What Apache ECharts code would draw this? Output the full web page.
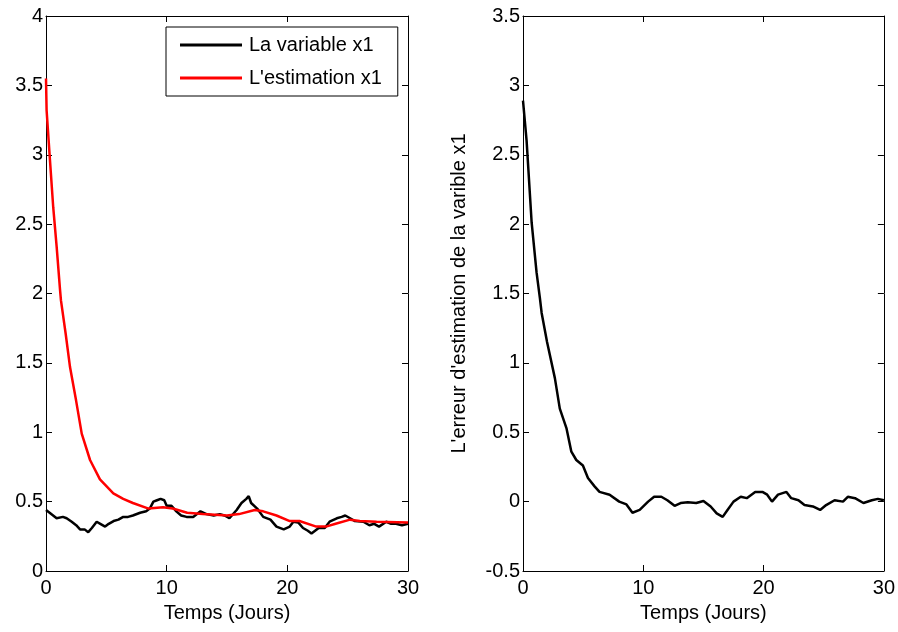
<!DOCTYPE html>
<html>

<head>
    <meta charset="UTF-8">
    <title>Estimation x1</title>
    <style type="text/css">
        * {
            margin: 0;
            padding: 0;
        }

        html,
        body {
            width: 100%;
            height: 100%;
            background: #fff;
        }

        .container {
            width: 898px;
            height: 632px;
        }
    </style>
</head>

<body>
    <div class="container" id="container"></div>
    <script src="https://cdn.jsdelivr.net/npm/echarts@6/dist/echarts.min.js"></script>
    <script>
        // x1 reel (gauche, noir)
        const tX1 = [0, 0.3, 0.88, 1.4, 1.71, 2.13, 2.5, 2.82, 3.2, 3.5, 3.8, 4.2, 4.5, 4.9, 5.2, 5.6, 6.0, 6.4, 6.8, 7.2, 7.8, 8.3, 8.6, 8.9, 9.2, 9.5, 9.8, 10.0, 10.4, 10.8, 11.2, 11.65, 12.2, 12.8, 13.3, 13.9, 14.4, 14.8, 15.2, 15.8, 16.2, 16.6, 16.8, 17.0, 17.5, 18.0, 18.6, 19.1, 19.7, 20.2, 20.5, 20.9, 21.3, 21.7, 22.0, 22.6, 23.1, 23.5, 24.1, 24.5, 24.8, 25.2, 25.6, 26.3, 26.8, 27.2, 27.6, 28.2, 28.6, 29.0, 29.5, 30];
        const x1Values = [0.44, 0.42, 0.38, 0.39, 0.38, 0.355, 0.33, 0.30, 0.30, 0.28, 0.31, 0.355, 0.34, 0.32, 0.34, 0.36, 0.37, 0.39, 0.39, 0.40, 0.42, 0.43, 0.45, 0.50, 0.51, 0.52, 0.51, 0.47, 0.47, 0.43, 0.40, 0.39, 0.39, 0.43, 0.41, 0.40, 0.41, 0.40, 0.38, 0.44, 0.49, 0.52, 0.54, 0.49, 0.45, 0.39, 0.37, 0.32, 0.30, 0.32, 0.355, 0.35, 0.31, 0.29, 0.27, 0.31, 0.31, 0.355, 0.38, 0.39, 0.40, 0.38, 0.36, 0.355, 0.33, 0.34, 0.32, 0.355, 0.34, 0.34, 0.33, 0.34];

        // estimation de x1 (gauche, rouge)
        const tEst = [0, 0.05, 0.33, 0.6, 0.88, 1.16, 1.24, 1.63, 1.99, 2.49, 2.96, 3.65, 4.47, 5.58, 6.4, 7.2, 8.5, 9.7, 10.5, 11.7, 13, 15, 16, 17.3, 18, 19.1, 20.2, 21, 22.4, 23.2, 24, 25.2, 26, 27.4, 30];
        const estValues = [3.55, 3.32, 2.96, 2.62, 2.34, 2.03, 1.95, 1.71, 1.47, 1.23, 0.99, 0.80, 0.66, 0.56, 0.52, 0.49, 0.45, 0.46, 0.45, 0.42, 0.41, 0.40, 0.41, 0.44, 0.43, 0.40, 0.36, 0.36, 0.32, 0.32, 0.34, 0.37, 0.36, 0.355, 0.35];

        // erreur d'estimation (droite)
        const tErr = [0, 0.3, 0.45, 0.72, 1.13, 1.4, 1.55, 2.0, 2.65, 3.06, 3.61, 4.02, 4.43, 4.98, 5.4, 5.95, 6.36, 7.2, 8.0, 8.6, 9.1, 9.7, 10.4, 10.9, 11.5, 12.0, 12.6, 13.1, 13.7, 14.4, 15.0, 15.6, 16.1, 16.6, 17.0, 17.5, 18.1, 18.6, 19.3, 19.9, 20.3, 20.7, 21.2, 21.9, 22.3, 22.9, 23.4, 24.1, 24.7, 25.2, 25.9, 26.6, 27.0, 27.6, 28.3, 29.0, 29.5, 30];
        const errValues = [2.89, 2.6, 2.39, 2.01, 1.65, 1.47, 1.36, 1.15, 0.89, 0.67, 0.53, 0.36, 0.30, 0.26, 0.17, 0.11, 0.07, 0.05, 0.0, -0.02, -0.08, -0.06, 0.0, 0.035, 0.035, 0.01, -0.03, -0.01, -0.005, -0.01, 0.005, -0.035, -0.085, -0.11, -0.06, 0.0, 0.035, 0.025, 0.07, 0.07, 0.05, 0.0, 0.05, 0.07, 0.025, 0.01, -0.025, -0.035, -0.06, -0.025, 0.01, 0.0, 0.035, 0.025, -0.01, 0.01, 0.02, 0.01];

        const xTicks = { min: 0, max: 30, interval: 10 };
        const font = 'Liberation Sans, Arial, sans-serif';

        const pairs = (t, v) => t.map((x, i) => [x, v[i]]);

        const mainX = (gridIndex) => ({
            type: 'value',
            gridIndex: gridIndex,
            position: 'bottom',
            min: xTicks.min,
            max: xTicks.max,
            interval: xTicks.interval,
            name: 'Temps (Jours)',
            nameLocation: 'middle',
            nameGap: 32,
            nameTextStyle: { color: '#000', fontSize: 20, fontFamily: font },
            axisLine: { show: true, onZero: false, lineStyle: { color: '#000', width: 1 } },
            axisTick: { show: true, inside: true, length: 6, lineStyle: { color: '#000' } },
            axisLabel: { color: '#000', fontSize: 20, fontFamily: font, margin: 7, showMaxLabel: true, showMinLabel: true },
            splitLine: { show: false }
        });
        const topX = (gridIndex) => ({
            type: 'value',
            gridIndex: gridIndex,
            position: 'top',
            min: xTicks.min,
            max: xTicks.max,
            interval: xTicks.interval,
            axisLine: { show: true, onZero: false, lineStyle: { color: '#000', width: 1 } },
            axisTick: { show: true, inside: true, length: 6, lineStyle: { color: '#000' } },
            axisLabel: { show: false },
            splitLine: { show: false }
        });
        const leftY = (gridIndex, min, max, name) => ({
            type: 'value',
            gridIndex: gridIndex,
            position: 'left',
            min: min,
            max: max,
            interval: 0.5,
            name: name,
            nameLocation: 'middle',
            nameGap: 54,
            nameTextStyle: { color: '#000', fontSize: 20, fontFamily: font },
            axisLine: { show: true, onZero: false, lineStyle: { color: '#000', width: 1 } },
            axisTick: { show: true, inside: true, length: 6, lineStyle: { color: '#000' } },
            axisLabel: { color: '#000', fontSize: 20, fontFamily: font, margin: 3 },
            splitLine: { show: false }
        });
        const rightY = (gridIndex, min, max) => ({
            type: 'value',
            gridIndex: gridIndex,
            position: 'right',
            min: min,
            max: max,
            interval: 0.5,
            axisLine: { show: true, onZero: false, lineStyle: { color: '#000', width: 1 } },
            axisTick: { show: true, inside: true, length: 6, lineStyle: { color: '#000' } },
            axisLabel: { show: false },
            splitLine: { show: false }
        });

        const chart = echarts.init(document.getElementById('container'));
        chart.setOption({
            animation: false,
            backgroundColor: '#fff',
            grid: [
                { left: 46, right: 490, top: 16, bottom: 61 },
                { left: 523, right: 12, top: 16, bottom: 61 }
            ],
            legend: {
                data: ['La variable x1', "L'estimation x1"],
                orient: 'vertical',
                left: 166,
                top: 27,
                padding: [8, 16, 8, 14],
                itemGap: 13,
                itemWidth: 62,
                itemHeight: 3,
                icon: 'rect',
                borderColor: '#000',
                borderWidth: 1,
                backgroundColor: '#fff',
                textStyle: { color: '#000', fontSize: 20, fontFamily: font, lineHeight: 20, padding: [0, 0, 0, 2] }
            },
            xAxis: [mainX(0), topX(0), mainX(1), topX(1)],
            yAxis: [
                leftY(0, 0, 4, ''),
                rightY(0, 0, 4),
                leftY(1, -0.5, 3.5, "L'erreur d'estimation de la varible x1"),
                rightY(1, -0.5, 3.5)
            ],
            series: [
                {
                    name: 'La variable x1',
                    type: 'line',
                    xAxisIndex: 0,
                    yAxisIndex: 0,
                    showSymbol: false,
                    color: '#000',
                    lineStyle: { color: '#000', width: 2.5 },
                    data: pairs(tX1, x1Values)
                },
                {
                    name: "L'estimation x1",
                    type: 'line',
                    xAxisIndex: 0,
                    yAxisIndex: 0,
                    showSymbol: false,
                    color: '#ff0000',
                    lineStyle: { color: '#ff0000', width: 2.5 },
                    data: pairs(tEst, estValues)
                },
                {
                    name: 'Erreur x1',
                    type: 'line',
                    xAxisIndex: 2,
                    yAxisIndex: 2,
                    showSymbol: false,
                    color: '#000',
                    lineStyle: { color: '#000', width: 2.5 },
                    data: pairs(tErr, errValues)
                }
            ]
        });
    </script>
</body>

</html>
